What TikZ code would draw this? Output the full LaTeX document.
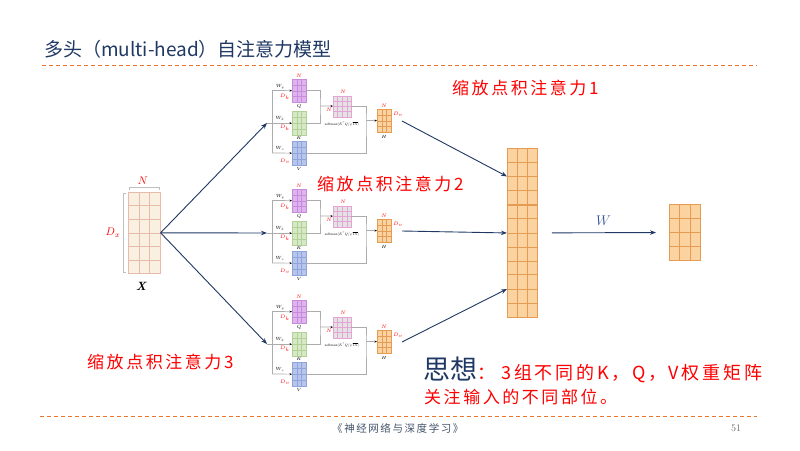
\RequirePackage{fix-cm}
\documentclass[tikz,border=0pt]{standalone}
\usepackage{fontspec}
\usepackage{graphicx}
\newfontfamily\cjk{Noto Sans CJK SC}
\newfontfamily\cjksp[LetterSpace=15]{Noto Sans CJK SC}
\usetikzlibrary{positioning,calc,arrows.meta}

\definecolor{navy}{HTML}{1F3864}
\definecolor{titleblue}{HTML}{203864}
\definecolor{dashorange}{HTML}{E9742B}
\definecolor{footgrey}{HTML}{44546A}
\definecolor{wblue}{HTML}{2F5597}
\definecolor{xfill}{HTML}{FAF0E2}
\definecolor{xline}{HTML}{E6BBAA}
\definecolor{qfill}{HTML}{DFB3F0}
\definecolor{qline}{HTML}{C68CDA}
\definecolor{kfill}{HTML}{D6E9C6}
\definecolor{kline}{HTML}{B2D197}
\definecolor{vfill}{HTML}{B7C5EC}
\definecolor{vline}{HTML}{8FA4DB}
\definecolor{sfill}{HTML}{E3E3E3}
\definecolor{sline}{HTML}{E6A3D6}
\definecolor{hfill}{HTML}{FAD3A0}
\definecolor{hline}{HTML}{E59B52}

% matrix with cells: name, x, y (top left), width, height, columns, rows, cell style, grid style
\newcommand{\gridmat}[9]{%
  \node[#8, inner sep=0pt, minimum width=#4pt, minimum height=#5pt, anchor=north west] (#1) at (#2,#3) {};
  \pgfmathtruncatemacro\ncol{#6-1}
  \pgfmathtruncatemacro\nrow{#7-1}
  \foreach \i in {1,...,\ncol}
    \draw[#9] ($(#1.north west)!\i/#6!(#1.north east)$) -- ($(#1.south west)!\i/#6!(#1.south east)$);
  \foreach \j in {1,...,\nrow}
    \draw[#9] ($(#1.north west)!\j/#7!(#1.south west)$) -- ($(#1.north east)!\j/#7!(#1.south east)$);
}

% one scaled dot-product attention head: name, vertical offset
\newcommand{\attnhead}[2]{%
  \begin{scope}[yshift=-#2pt]
    \coordinate (#1in) at (267,123);
    \coordinate (#1top) at (272,90.5);
    \coordinate (#1bot) at (272,153);
    \coordinate (#1qk) at (320,106);
    \coordinate (#1sv) at (366,120.5);
    \coordinate (#1out) at (402,121);
    \gridmat{#1q}{292}{79}{14}{23}{3}{4}{qcell}{qgrid}
    \gridmat{#1k}{292}{111}{14}{24}{3}{4}{kcell}{kgrid}
    \gridmat{#1v}{292}{141}{14}{24}{3}{4}{vcell}{vgrid}
    \gridmat{#1s}{333}{95.5}{18}{21}{4}{4}{scell}{sgrid}
    \gridmat{#1h}{377}{109}{14}{23}{3}{4}{hcell}{hgrid}
    \draw[gline] (#1top) -- (#1bot);
    \draw[gline] (#1in) -- (#1in -| #1top);
    \draw[garrow] (#1top) -- (#1q);
    \draw[garrow] (#1top |- #1k) -- (#1k);
    \draw[garrow] (#1bot) -- (#1v);
    \draw[gline] (#1q.east) -| (#1qk) |- (#1k.east);
    \draw[garrow] (#1qk) -- (#1s);
    \draw[gline] (#1s.east) -| (#1sv) |- (#1v.east);
    \draw[garrow] (#1sv) -- (#1h);
    % small labels
    \node[lab] at (299,75.5) {$N$};
    \node[lab, anchor=east] at (290,97) {$D_k$};
    \node[blab] at (299,106) {$Q$};
    \node[lab, anchor=east] at (290,128) {$D_k$};
    \node[blab] at (299,138) {$K$};
    \node[lab, anchor=east] at (290,161) {$D_v$};
    \node[blab] at (299,169) {$V$};
    \node[blab] at (280,86.5) {$W_q$};
    \node[blab] at (280,118.5) {$W_k$};
    \node[blab] at (280,148.5) {$W_v$};
    \node[lab] at (343,92) {$N$};
    \node[lab] at (329,110) {$N$};
    \node[inner sep=0pt] at (342,124) {\scalebox{0.37}{$\mathrm{softmax}(K^{\top}Q/\sqrt{D_k})$}};
    \node[lab] at (384,105.5) {$N$};
    \node[lab] at (398,114) {$D_v$};
    \node[blab] at (384,137) {$H$};
  \end{scope}
}

\tikzset{
  xcell/.style={fill=xfill, draw=xline, line width=0.6pt},
  xgrid/.style={xline, line width=0.6pt},
  qcell/.style={fill=qfill, draw=qline, line width=0.4pt},
  qgrid/.style={qline, line width=0.4pt},
  kcell/.style={fill=kfill, draw=kline, line width=0.4pt},
  kgrid/.style={kline, line width=0.4pt},
  vcell/.style={fill=vfill, draw=vline, line width=0.4pt},
  vgrid/.style={vline, line width=0.4pt},
  scell/.style={fill=sfill, draw=sline, line width=0.4pt},
  sgrid/.style={sline, line width=0.4pt},
  hcell/.style={fill=hfill, draw=hline, line width=0.4pt},
  hgrid/.style={hline, line width=0.4pt},
  ocell/.style={fill=hfill, draw=hline, line width=0.9pt},
  ogrid/.style={hline, line width=0.9pt},
  gline/.style={draw=gray!65, line width=0.7pt},
  garrow/.style={gline, -{Stealth[length=2.5pt,width=2pt,black]}},
  navyarrow/.style={navy, line width=0.9pt, -{Stealth[length=6pt,width=4.5pt]}},
  lab/.style={text=red, inner sep=0pt, font=\fontsize{5}{5}\selectfont},
  blab/.style={text=black, inner sep=0pt, font=\fontsize{4.5}{5}\selectfont},
  brk/.style={gray!50, line width=0.8pt},
  redtxt/.style={text=red, inner sep=0pt, anchor=west, font=\cjksp\fontsize{17}{17}\selectfont},
  dashline/.style={dashorange, line width=0.9pt, dash pattern=on 4pt off 3pt}
}

\begin{document}
\begin{tikzpicture}[x=1pt, y=-1pt]
  \useasboundingbox[fill=white] (0,0) rectangle (800,450);

  % title and rules
  \node[anchor=west, inner sep=0pt, text=titleblue, font=\cjk\fontsize{19}{19}\selectfont] (title) at (44,49) {多头（multi-head）自注意力模型};
  \draw[dashline] (42,65) -- (757,65);
  \draw[dashline] (40,416) -- (757,416);

  % input X
  \gridmat{x}{128}{192}{32}{81}{3}{6}{xcell}{xgrid}
  \draw[brk] ([shift={(1,-2)}]x.north west) -- ++(0,-3) -- ++(30,0) -- ++(0,3);
  \draw[brk] ([shift={(-2,1)}]x.north west) -- ++(-3,0) -- ++(0,79) -- ++(3,0);
  \node[text=red, font=\fontsize{11}{11}\selectfont] (xn) at (143,181) {$N$};
  \node[text=red, font=\fontsize{11}{11}\selectfont] (xd) at (113,233) {$D_x$};
  \node[font=\bfseries\itshape\fontsize{12}{12}\selectfont] (xname) at (141,286) {X};

  % three heads
  \attnhead{h1}{0}
  \attnhead{h2}{110}
  \attnhead{h3}{221}
  \foreach \n in {h1,h2,h3}
    \draw[navyarrow] (x.east) -- (\n in);

  % concatenation and output
  \gridmat{c1}{507}{148}{30}{56}{3}{4}{ocell}{ogrid}
  \gridmat{c2}{507}{204.5}{30}{56}{3}{4}{ocell}{ogrid}
  \gridmat{c3}{507}{260.5}{30}{56}{3}{4}{ocell}{ogrid}
  \gridmat{o}{669}{204}{31}{56}{3}{4}{ocell}{ogrid}
  \draw[navyarrow] (h1out) -- (c1.west);
  \draw[navyarrow] (h2out) -- (c2.west);
  \draw[navyarrow] (h3out) -- (c3.west);
  \draw[navyarrow, shorten <=14pt, shorten >=13pt] (c2) -- (o)
    node[midway, above=3pt, text=wblue, font=\fontsize{14}{14}\selectfont] (wlab) {$W$};

  % captions
  \node[redtxt] (cap1) at (452,88) {缩放点积注意力1};
  \node[redtxt] (cap2) at (317,184) {缩放点积注意力2};
  \node[redtxt] (cap3) at (87,362) {缩放点积注意力3};

  \node[anchor=west, inner sep=0pt, text=navy, font=\cjk\fontsize{27}{27}\selectfont] (idea) at (423,369) {思想};
  \node[redtxt, anchor=base west, font=\cjksp\fontsize{18}{18}\selectfont] (idea1) at (idea.base east) {：\hspace{6pt}3组不同的K，Q，V权重矩阵};
  \node[redtxt] (idea2) at (424,397) {关注输入的不同部位。};

  % footer
  \node[anchor=west, inner sep=0pt, text=footgrey, font=\cjksp\fontsize{10.5}{11}\selectfont] (book) at (332,428) {《神经网络与深度学习》};
  \node[anchor=west, inner sep=0pt, text=gray!85!black, font=\fontsize{10}{10}\selectfont] (page) at (731,428) {51};
\end{tikzpicture}
\end{document}
